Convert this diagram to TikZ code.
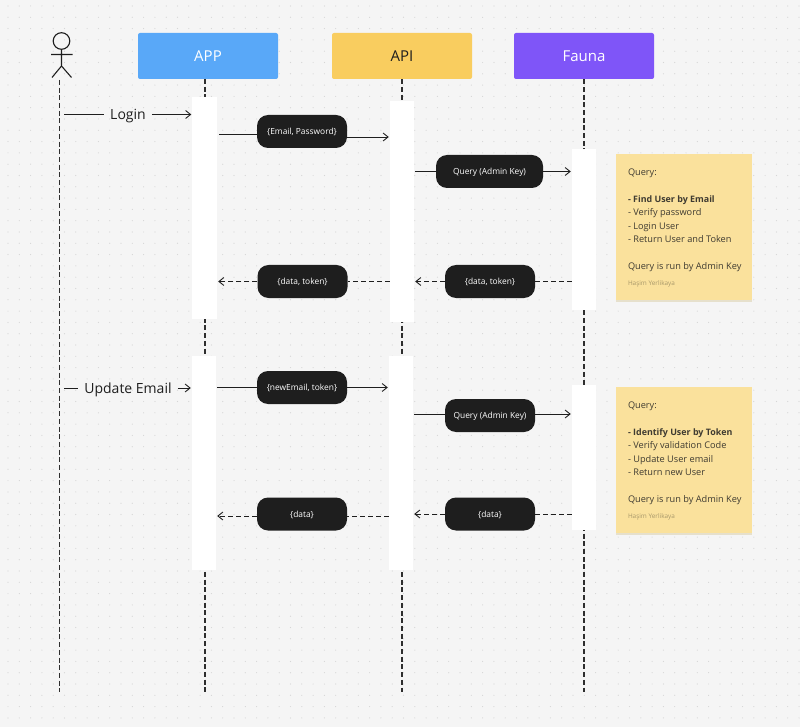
\documentclass[tikz,border=0pt]{standalone}
\usepackage{fontspec}
\setmainfont{Open Sans}
\usetikzlibrary{arrows.meta}
\definecolor{bgc}{HTML}{F5F5F5}
\definecolor{dotc}{HTML}{D6D6D6}
\definecolor{inkc}{HTML}{1E1E1E}
\definecolor{linec}{HTML}{2E2E2E}
\definecolor{appc}{HTML}{59A8F8}
\definecolor{apic}{HTML}{F9CD5F}
\definecolor{fauc}{HTML}{7F55F8}
\definecolor{notec}{HTML}{FAE19C}
\definecolor{shadowc}{HTML}{E6E0CC}
\definecolor{mutedc}{HTML}{A8986A}
\tikzset{
  x=1pt,y=-1pt,
  head/.style={draw=none,rounded corners=2pt,minimum width=140pt,minimum height=46pt,inner sep=0pt,font=\fontsize{15}{18}\selectfont},
  lifeline/.style={draw=linec,line width=1.2pt,dash pattern=on 5pt off 2.7pt},
  bar/.style={fill=white,draw=none,minimum width=24pt,inner sep=0pt},
  pill/.style={fill=inkc,text=white,rounded corners=11pt,minimum height=33pt,inner sep=0pt,text height=7.5pt,text depth=1pt,font=\fontsize{8.4}{10}\selectfont},
  flow/.style={draw=inkc,line width=.9pt},
  flowhead/.style={flow,-{Straight Barb[length=5pt,width=8pt,line width=.9pt]}},
  backline/.style={flow,dash pattern=on 5pt off 3pt},
  backflow/.style={flowhead,dash pattern=on 5pt off 3pt},
  plainlabel/.style={inner sep=0pt,text=inkc,font=\fontsize{14}{17}\selectfont},
  note/.style={fill=notec,draw=none,minimum width=136pt,minimum height=146pt,inner sep=0pt},
  notetext/.style={anchor=north west,inner sep=0pt,align=left,text=inkc!85!notec,font=\fontsize{9.2}{13.5}\selectfont},
  stick/.style={draw=inkc,line width=1.1pt}
}
\newcommand{\notesign}{{\color{mutedc}\fontsize{6.4}{13.5}\selectfont Ha\c{s}im Yerlikaya}}
\newcommand{\notebold}[1]{{\fontsize{8.9}{13.5}\selectfont\bfseries #1}}
\begin{document}
\begin{tikzpicture}
\useasboundingbox (0,0) rectangle (800,727);
\fill[bgc] (0,0) rectangle (800,727);
% dot grid
\foreach \i in {0,...,70}{\foreach \j in {0,...,64}{
  \fill[dotc] ({8+11.3*\i},{6+11.3*\j}) circle (.6pt);}}
% headers
\node[head,fill=appc,text=white] (app) at (208,56) {APP};
\node[head,fill=apic,text=inkc] (api) at (402,56) {API};
\node[head,fill=fauc,text=white] (fauna) at (584,56) {Fauna};
% lifeline ends
\coordinate (actorTop) at (59.5,80);
\coordinate (actorEnd) at (59.5,692);
\coordinate (appEnd) at (205,692);
\coordinate (apiEnd) at (402,692);
\coordinate (faunaEnd) at (584,692);
\coordinate (appTop) at (205,79);
\draw[lifeline] (actorTop) -- (actorEnd);
\draw[lifeline] (appTop) -- (appEnd);
\draw[lifeline] (api.south) -- (apiEnd);
\draw[lifeline] (fauna.south) -- (faunaEnd);
% actor
\draw[stick] (61.5,41) circle (8.3pt);
\draw[stick] (61.5,49.5) -- (61.5,66) (51,54.5) -- (72.5,54.5) (52,77.5) -- (61.5,66) -- (71.5,77.5);
% activation bars
\node[bar,minimum width=25pt,minimum height=222pt] (a1) at (204.5,208) {};
\node[bar,minimum height=221pt] (b1) at (402,211.5) {};
\node[bar,minimum height=161pt] (c1) at (584,229.5) {};
\node[bar,minimum height=214pt] (a2) at (204,463) {};
\node[bar,minimum height=214pt] (b2) at (401,463) {};
\node[bar,minimum height=145pt] (c2) at (584,457.5) {};
% labels
\node[plainlabel] (login) at (128,116) {Login};
\node[plainlabel] (update) at (128,389.5) {Update Email};
\coordinate (loginStart) at (64,114.5);
\coordinate (updateStart) at (64,388);
\coordinate (loginBar) at ([xshift=-.5pt]a1.west |- loginStart);
\coordinate (updateBar) at ([xshift=-1pt]a2.west |- updateStart);
\coordinate (loginAfter) at ([xshift=6pt]login.east |- loginStart);
\coordinate (loginBefore) at ([xshift=-6pt]login.west |- loginStart);
\coordinate (updateAfter) at ([xshift=6pt]update.east |- updateStart);
\coordinate (updateBefore) at ([xshift=-6pt]update.west |- updateStart);
\draw[flow] (loginStart) -- (loginBefore);
\draw[flowhead] (loginAfter) -- (loginBar);
\draw[flow] (updateStart) -- (updateBefore);
\draw[flowhead] (updateAfter) -- (updateBar);
% pills
\node[pill,minimum width=90pt] (p1) at (302,131.5) {\{Email, Password\}};
\node[pill,minimum width=107pt] (p2) at (489.5,171.5) {Query (Admin Key)};
\node[pill,minimum width=90pt] (p3) at (490,281.5) {\{data, token\}};
\node[pill,minimum width=90pt] (p4) at (302.5,281.5) {\{data, token\}};
\node[pill,minimum width=90pt] (p5) at (302,387.5) {\{newEmail, token\}};
\node[pill,minimum width=90pt] (p6) at (490,415.5) {Query (Admin Key)};
\node[pill,minimum width=90pt] (p7) at (490,514) {\{data\}};
\node[pill,minimum width=90pt] (p8) at (302,514) {\{data\}};
% connectors
\draw[flow] ([xshift=2pt,yshift=-2.5pt]a1.east |- p1) -- ([yshift=-2.5pt]p1.west);
\draw[flowhead] ([yshift=-5.5pt]p1.east) -- ([xshift=-1pt,yshift=-5.5pt]b1.west |- p1);
\draw[flow] ([xshift=1pt]b1.east |- p2) -- (p2.west);
\draw[flowhead] (p2.east) -- ([xshift=-1pt]c1.west |- p2);
\draw[backline] (c1.west |- p3) -- (p3.east);
\draw[backflow] (p3.west) -- ([xshift=1pt]b1.east |- p3);
\draw[backline] (b1.west |- p4) -- (p4.east);
\draw[backflow] (p4.west) -- ([xshift=1pt]a1.east |- p4);
\draw[flow] ([xshift=1pt,yshift=1.5pt]b2.east |- p6) -- ([yshift=1.5pt]p6.west);
\draw[flowhead] ([yshift=1.5pt]p6.east) -- ([xshift=-1pt,yshift=1.5pt]c2.west |- p6);
\draw[flow] ([xshift=1pt]a2.east |- p5) -- (p5.west);
\draw[flowhead] (p5.east) -- ([xshift=-1pt]b2.west |- p5);
\draw[backline] (c2.west |- p7) -- (p7.east);
\draw[backflow] (p7.west) -- ([xshift=1pt]b2.east |- p7);
\draw[backline] ([yshift=-2pt]b2.west |- p8) -- ([yshift=-2pt]p8.east);
\draw[backflow] ([yshift=-2pt]p8.west) -- ([xshift=1pt,yshift=-2pt]a2.east |- p8);
% notes
\fill[shadowc] (616,157) rectangle (752,302);
\fill[shadowc] (616,390) rectangle (752,535);
\node[note] (n1) at (684,227) {};
\node[note] (n2) at (684,460) {};
\node[notetext] (t1) at ([xshift=12pt,yshift=-14.5pt]n1.north west) {Query:\\
\mbox{}\\
\notebold{- Find User by Email}\\
- Verify password\\
- Login User\\
- Return User and Token\\
\mbox{}\\
Query is run by Admin Key\\[2.5pt]
\notesign};
\node[notetext] (t2) at ([xshift=12pt,yshift=-14.5pt]n2.north west) {Query:\\
\mbox{}\\
\notebold{- Identify User by Token}\\
- Verify validation Code\\
- Update User email\\
- Return new User\\
\mbox{}\\
Query is run by Admin Key\\[2.5pt]
\notesign};
\end{tikzpicture}
\end{document}
